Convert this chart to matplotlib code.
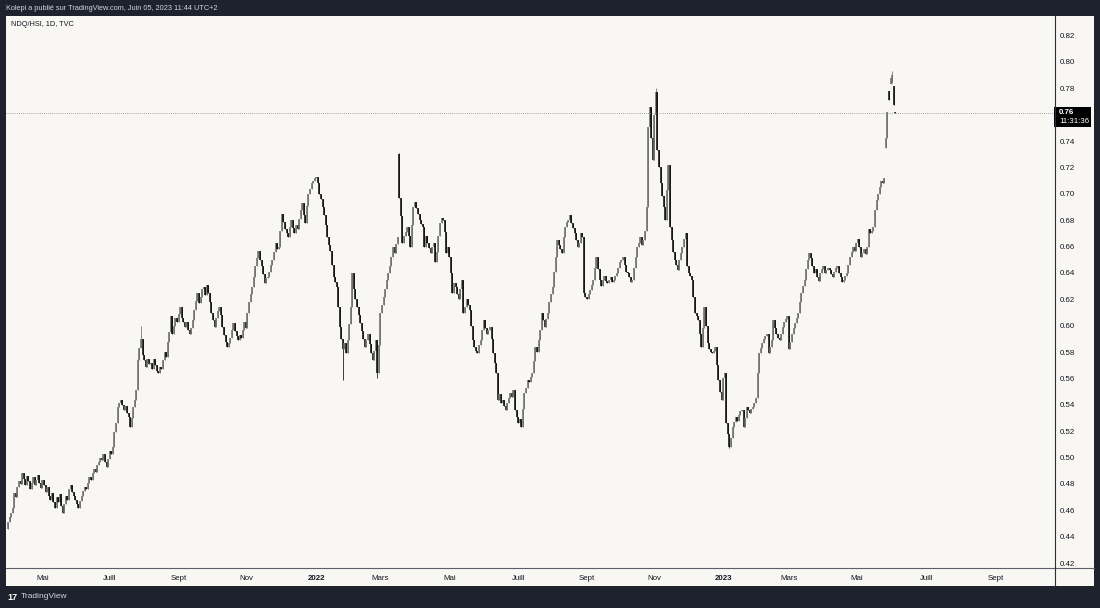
import matplotlib

matplotlib.use("Agg")

import matplotlib.pyplot as plt
from matplotlib import transforms
from matplotlib.lines import Line2D
from matplotlib.patches import Rectangle
import numpy as np
import pandas as pd

W, H = 1100, 608

# daily closes of NDQ/HSI (1D, TVC)
close_2021 = [
    0.451, 0.455, 0.458, 0.462, 0.473, 0.470, 0.478, 0.482, 0.480, 0.488,
    0.484, 0.479, 0.486, 0.482, 0.476, 0.481, 0.485, 0.479, 0.483, 0.487,
    0.481, 0.477, 0.483, 0.479, 0.474, 0.478, 0.471, 0.468, 0.473, 0.466,
    0.462, 0.470, 0.466, 0.472, 0.463, 0.458, 0.465, 0.471, 0.468, 0.476,
    0.479, 0.474, 0.471, 0.468, 0.465, 0.462, 0.467, 0.471, 0.475, 0.478,
    0.476, 0.481, 0.485, 0.483, 0.488, 0.491, 0.489, 0.494, 0.497, 0.500,
    0.498, 0.503, 0.497, 0.493, 0.499, 0.505, 0.503, 0.508, 0.519, 0.526,
    0.538, 0.541, 0.544, 0.540, 0.536, 0.539, 0.534, 0.531, 0.523, 0.530,
    0.538, 0.544, 0.551, 0.574, 0.583, 0.590, 0.578, 0.574, 0.569, 0.575,
    0.571, 0.572, 0.567, 0.575, 0.570, 0.566, 0.564, 0.569, 0.567, 0.574,
    0.580, 0.576, 0.588, 0.595, 0.607, 0.594, 0.600, 0.606, 0.603, 0.609,
    0.614, 0.606, 0.603, 0.599, 0.603, 0.597, 0.594, 0.598, 0.604, 0.612,
    0.619, 0.625, 0.617, 0.622, 0.628, 0.629, 0.623, 0.631, 0.625, 0.618,
    0.610, 0.604, 0.599, 0.606, 0.611, 0.614, 0.608, 0.599, 0.593, 0.588,
    0.584, 0.587, 0.591, 0.597, 0.602, 0.596, 0.592, 0.589, 0.593, 0.591,
    0.597, 0.603, 0.598, 0.610, 0.618, 0.624, 0.629, 0.637, 0.645, 0.651,
    0.657, 0.650, 0.645, 0.639, 0.632, 0.636, 0.637, 0.641, 0.646, 0.650,
    0.656, 0.663, 0.658, 0.660, 0.672, 0.685, 0.679, 0.673, 0.670, 0.667,
    0.675, 0.680, 0.674, 0.670, 0.676, 0.673, 0.681, 0.688, 0.693, 0.684,
    0.678, 0.691, 0.700, 0.704, 0.708, 0.710, 0.712,
]
close_2022 = [
    0.713, 0.708, 0.700, 0.696, 0.690, 0.684, 0.676, 0.667, 0.661, 0.657,
    0.646, 0.637, 0.633, 0.629, 0.614, 0.599, 0.590, 0.582, 0.587, 0.579,
    0.589, 0.601, 0.614, 0.640, 0.628, 0.620, 0.614, 0.608, 0.602, 0.596,
    0.590, 0.584, 0.589, 0.594, 0.586, 0.579, 0.574, 0.581, 0.589, 0.564,
    0.585, 0.610, 0.616, 0.622, 0.628, 0.635, 0.640, 0.645, 0.652, 0.660,
    0.655, 0.662, 0.667, 0.697, 0.683, 0.663, 0.668, 0.671, 0.675, 0.668,
    0.660, 0.676, 0.690, 0.694, 0.689, 0.685, 0.680, 0.677, 0.675, 0.660,
    0.668, 0.663, 0.659, 0.655, 0.660, 0.663, 0.648, 0.656, 0.668, 0.678,
    0.682, 0.680, 0.671, 0.655, 0.660, 0.652, 0.640, 0.625, 0.632, 0.629,
    0.624, 0.620, 0.628, 0.635, 0.610, 0.614, 0.620, 0.616, 0.612, 0.600,
    0.589, 0.584, 0.581, 0.579, 0.585, 0.589, 0.597, 0.604, 0.598, 0.594,
    0.597, 0.599, 0.590, 0.579, 0.572, 0.564, 0.544, 0.548, 0.541, 0.544,
    0.539, 0.536, 0.541, 0.545, 0.549, 0.546, 0.551, 0.536, 0.531, 0.526,
    0.529, 0.523, 0.537, 0.549, 0.553, 0.559, 0.557, 0.561, 0.564, 0.573,
    0.584, 0.580, 0.589, 0.597, 0.610, 0.604, 0.599, 0.605, 0.610, 0.618,
    0.624, 0.629, 0.641, 0.652, 0.665, 0.661, 0.658, 0.655, 0.667, 0.675,
    0.679, 0.680, 0.684, 0.678, 0.674, 0.670, 0.665, 0.660, 0.663, 0.670,
    0.667, 0.625, 0.622, 0.620, 0.624, 0.627, 0.631, 0.635, 0.644, 0.652,
    0.643, 0.635, 0.630, 0.635, 0.638, 0.634, 0.632, 0.635, 0.637, 0.633,
    0.635, 0.638, 0.640, 0.644, 0.648, 0.650, 0.652, 0.646, 0.641, 0.640,
    0.637, 0.633, 0.635, 0.644, 0.652, 0.660, 0.663, 0.667, 0.661, 0.665,
    0.672, 0.690, 0.751, 0.766, 0.742, 0.726, 0.760, 0.777, 0.733, 0.720,
    0.708, 0.698, 0.690, 0.680, 0.703, 0.722, 0.675, 0.665, 0.656, 0.650,
    0.646, 0.642, 0.650, 0.655, 0.660, 0.666, 0.670, 0.645, 0.640, 0.638,
    0.635, 0.622, 0.610, 0.607, 0.604, 0.594, 0.584, 0.598, 0.614, 0.600,
    0.587, 0.582, 0.580, 0.579, 0.581, 0.584, 0.570, 0.559, 0.550, 0.544,
]
close_2023 = [
    0.560, 0.564, 0.526, 0.518, 0.508, 0.515, 0.523, 0.527, 0.531, 0.528,
    0.532, 0.535, 0.536, 0.523, 0.530, 0.538, 0.536, 0.534, 0.537, 0.538,
    0.541, 0.545, 0.564, 0.579, 0.583, 0.587, 0.590, 0.592, 0.594, 0.579,
    0.584, 0.589, 0.604, 0.598, 0.594, 0.591, 0.589, 0.594, 0.599, 0.603,
    0.605, 0.607, 0.582, 0.588, 0.594, 0.598, 0.602, 0.606, 0.610, 0.618,
    0.625, 0.630, 0.635, 0.643, 0.650, 0.655, 0.651, 0.645, 0.640, 0.643,
    0.637, 0.634, 0.640, 0.643, 0.645, 0.640, 0.642, 0.644, 0.642, 0.639,
    0.637, 0.641, 0.644, 0.645, 0.640, 0.637, 0.633, 0.635, 0.638, 0.640,
    0.646, 0.652, 0.656, 0.660, 0.657, 0.663, 0.666, 0.660, 0.652, 0.655,
    0.658, 0.654, 0.660, 0.673, 0.670, 0.672, 0.675, 0.688, 0.695, 0.700,
    0.705, 0.710, 0.708, 0.712, 0.742, 0.762, 0.771, 0.788, 0.790, 0.767,
    0.761,
]

# opens that differ from the previous close (gaps)
gap_opens = {
    "2021-04-01": 0.446, "2022-03-17": 0.730,
    "2023-05-26": 0.735, "2023-05-30": 0.778, "2023-05-31": 0.783,
    "2023-06-01": 0.784, "2023-06-02": 0.782, "2023-06-05": 0.762,
}
# wicks that stick out of the bodies
wick_highs = {"2021-07-29": 0.600, "2022-03-17": 0.731, "2022-11-02": 0.780, "2023-06-01": 0.793}
wick_lows = {"2022-01-26": 0.559, "2022-02-25": 0.560, "2023-01-06": 0.507}

month_names = {1: None, 3: "Mars", 5: "Mai", 7: "Juill", 9: "Sept", 11: "Nov"}

BG = "#f8f7f3"
FRAME = "#1e222d"
INK = "#131722"
UP = "#6e6e6e"
DOWN = "#0d0d0d"

XLIM = (-1.3, 668.4)
YLIM = (0.417, 0.8341)


def px(x, y):
    return x / W, 1 - y / H


def main() -> None:
    plt.rcParams["font.family"] = ["Liberation Sans", "DejaVu Sans"]

    dates = pd.DatetimeIndex(
        list(pd.bdate_range("2021-04-01", periods=len(close_2021)))
        + list(pd.bdate_range("2022-01-03", periods=len(close_2022)))
        + list(pd.bdate_range("2023-01-02", periods=len(close_2023)))
    )
    closes = np.array(close_2021 + close_2022 + close_2023)
    keys = dates.strftime("%Y-%m-%d")
    opens = np.r_[closes[0], closes[:-1]]
    for k, v in gap_opens.items():
        opens[keys == k] = v
    highs = np.maximum(opens, closes)
    lows = np.minimum(opens, closes)
    for k, v in wick_highs.items():
        highs[keys == k] = v
    for k, v in wick_lows.items():
        lows[keys == k] = v

    x = np.arange(len(closes))
    up = closes >= opens
    colors = np.where(up, UP, DOWN)
    body_lo = np.minimum(opens, closes)
    body_hi = np.maximum(np.maximum(opens, closes), body_lo + 0.0008)

    fig = plt.figure(figsize=(W / 100, H / 100), dpi=100, facecolor=FRAME)
    x0, y0 = px(6, 586)
    x1, y1 = px(1094, 16)
    fig.patches.append(Rectangle((x0, y0), x1 - x0, y1 - y0, transform=fig.transFigure,
                                 facecolor=BG, edgecolor="none", zorder=-5))

    left, top = px(6, 17)
    right, bottom = px(1054, 567)
    ax = fig.add_axes([left, bottom, right - left, top - bottom])
    ax.set_facecolor(BG)
    for spine in ax.spines.values():
        spine.set_visible(False)

    ax.vlines(x, lows, highs, colors=colors, linewidth=0.55)
    ax.vlines(x, body_lo, body_hi, colors=colors, linewidth=1.15)

    last = closes[-1]
    ax.axhline(last, color="#8c8c8c", linewidth=0.6, linestyle=(0, (1, 1.5)))

    # price scale (the 0.76 level sits under the last price tag)
    ax.yaxis.tick_right()
    yt = np.round(np.arange(0.42, 0.821, 0.02), 2)
    ax.set_yticks(yt)
    ax.set_yticklabels(["" if abs(v - round(last, 2)) < 1e-9 else f"{v:.2f}" for v in yt])
    ax.tick_params(axis="y", length=0, pad=4.3, labelsize=5.7, labelcolor=INK)

    # time scale: first bar of every other month, future bars included
    all_days = dates.append(pd.bdate_range(dates[-1] + pd.Timedelta(days=1), periods=110))
    month_key = all_days.year * 12 + all_days.month
    first = np.r_[True, month_key[1:] != month_key[:-1]]
    tick_pos, tick_lab, tick_year = [], [], []
    for i in np.flatnonzero(first):
        m = all_days[i].month
        if m not in month_names or i == 0 or i > XLIM[1] - 6:
            continue
        tick_pos.append(i)
        tick_lab.append(str(all_days[i].year) if m == 1 else month_names[m])
        tick_year.append(m == 1)
    ax.set_xticks(tick_pos)
    ax.set_xticklabels(tick_lab)
    ax.tick_params(axis="x", length=0, pad=5.5, labelsize=5.7, labelcolor=INK)
    for lab, is_year in zip(ax.get_xticklabels(), tick_year):
        if is_year:
            lab.set_fontweight("bold")

    ax.set_xlim(*XLIM)
    ax.set_ylim(*YLIM)

    # last price tag
    blend = transforms.blended_transform_factory(ax.transAxes, ax.transData)
    axw = 1048.0
    ppu = 550.0 / (YLIM[1] - YLIM[0])
    ax.add_patch(Rectangle((1.0, last - 14 / ppu), 37 / axw, 20 / ppu, transform=blend,
                           facecolor="#000000", edgecolor="none", clip_on=False, zorder=5))
    ax.text(1.0 + 5 / axw, last + 0.5 / ppu, f"{last:.2f}", transform=blend, color="white",
            fontsize=5.7, fontweight="bold", va="center", ha="left", zorder=6)
    ax.text(1.0 + 5 / axw, last - 8.5 / ppu, "11:31:36", transform=blend, color="white",
            fontsize=5.7, va="center", ha="left", zorder=6)

    # separators of the chart panel
    for (xa, ya), (xb, yb), col in [
        ((6, 567.5), (1094, 567.5), "#5d606b"),
        ((1054.5, 16), (1054.5, 586), "#2a2e39"),
    ]:
        pa, pb = px(xa, ya), px(xb, yb)
        fig.add_artist(Line2D([pa[0], pb[0]], [pa[1], pb[1]], transform=fig.transFigure,
                              color=col, linewidth=0.8))

    fig.text(*px(6, 8.5), "Kolepi a publié sur TradingView.com, Juin 05, 2023 11:44 UTC+2",
             color="#d1d4dc", fontsize=5.3, va="center", ha="left")
    fig.text(*px(11, 25), "NDQ/HSI, 1D, TVC", color=INK, fontsize=5.3, va="center", ha="left")
    fig.text(*px(7, 597), "17", color="white", fontsize=6.5, fontweight="heavy",
             va="center", ha="left")
    fig.text(*px(21, 597), "TradingView", color="#d1d4dc", fontsize=6.0, va="center", ha="left")

    fig.savefig("out.png", dpi=100, facecolor=fig.get_facecolor())
    plt.close(fig)


if __name__ == "__main__":
    main()
